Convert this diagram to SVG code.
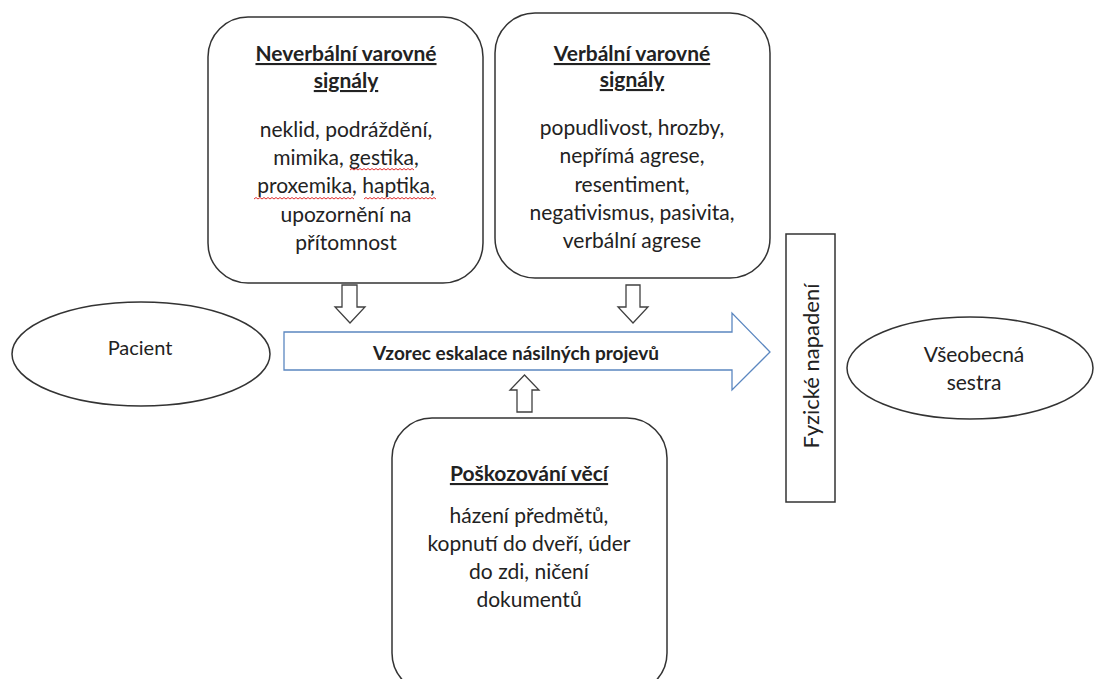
<svg xmlns="http://www.w3.org/2000/svg" width="1095" height="679" viewBox="0 0 1095 679">
<style>
.box{fill:#fff;stroke:#333;stroke-width:1.5}
.t{font-family:Lato,"Open Sans","Liberation Sans",sans-serif;font-size:21px;fill:#222;text-anchor:middle}
.h{font-weight:bold;text-decoration:underline}
.sm{fill:#fff;stroke:#404040;stroke-width:1.3}
.sq{fill:none;stroke:#e03030;stroke-width:1}
</style>
<rect width="1095" height="679" fill="#fff"/>
<g id="neverbalni">
<rect class="box" x="208" y="17" width="275" height="266" rx="40"/>
<text class="t h" x="346" y="61">Neverbální varovné</text>
<text class="t h" x="346" y="88">signály</text>
<text class="t" x="346" y="137">neklid, podráždění,</text>
<text class="t" x="346" y="165">mimika, gestika,</text>
<text class="t" x="346" y="193">proxemika, haptika,</text>
<text class="t" x="346" y="222">upozornění na</text>
<text class="t" x="346" y="250">přítomnost</text>
<path class="sq" d="M350 170 l2 -1.5 l2 1.5 l2 -1.5 l2 1.5 l2 -1.5 l2 1.5 l2 -1.5 l2 1.5 l2 -1.5 l2 1.5 l2 -1.5 l2 1.5 l2 -1.5 l2 1.5 l2 -1.5 l2 1.5 l2 -1.5 l2 1.5 l2 -1.5 l2 1.5 l2 -1.5 l2 1.5 l2 -1.5 l2 1.5 l2 -1.5 l2 1.5 l2 -1.5 l2 1.5 l2 -1.5 l2 1.5 l2 -1.5 l2 1.5"/>
<path class="sq" d="M254 199 l2 -1.5 l2 1.5 l2 -1.5 l2 1.5 l2 -1.5 l2 1.5 l2 -1.5 l2 1.5 l2 -1.5 l2 1.5 l2 -1.5 l2 1.5 l2 -1.5 l2 1.5 l2 -1.5 l2 1.5 l2 -1.5 l2 1.5 l2 -1.5 l2 1.5 l2 -1.5 l2 1.5 l2 -1.5 l2 1.5 l2 -1.5 l2 1.5 l2 -1.5 l2 1.5 l2 -1.5 l2 1.5 l2 -1.5 l2 1.5 l2 -1.5 l2 1.5 l2 -1.5 l2 1.5 l2 -1.5 l2 1.5 l2 -1.5 l2 1.5 l2 -1.5 l2 1.5 l2 -1.5 l2 1.5 l2 -1.5 l2 1.5 l2 -1.5 l2 1.5 l2 -1.5 l2 1.5"/>
<path class="sq" d="M364 199 l2 -1.5 l2 1.5 l2 -1.5 l2 1.5 l2 -1.5 l2 1.5 l2 -1.5 l2 1.5 l2 -1.5 l2 1.5 l2 -1.5 l2 1.5 l2 -1.5 l2 1.5 l2 -1.5 l2 1.5 l2 -1.5 l2 1.5 l2 -1.5 l2 1.5 l2 -1.5 l2 1.5 l2 -1.5 l2 1.5 l2 -1.5 l2 1.5 l2 -1.5 l2 1.5 l2 -1.5 l2 1.5 l2 -1.5 l2 1.5 l2 -1.5 l2 1.5 l2 -1.5 l2 1.5"/>
</g>
<g id="verbalni">
<rect class="box" x="495" y="13" width="275" height="265" rx="40"/>
<text class="t h" x="632" y="61">Verbální varovné</text>
<text class="t h" x="632" y="87">signály</text>
<text class="t" x="632" y="135">popudlivost, hrozby,</text>
<text class="t" x="632" y="163">nepřímá agrese,</text>
<text class="t" x="632" y="192">resentiment,</text>
<text class="t" x="632" y="220">negativismus, pasivita,</text>
<text class="t" x="632" y="248">verbální agrese</text>
</g>
<g id="poskozovani">
<rect class="box" x="392" y="418" width="275" height="275" rx="40"/>
<text class="t h" x="529" y="481">Poškozování věcí</text>
<text class="t" x="529" y="523">házení předmětů,</text>
<text class="t" x="529" y="551">kopnutí do dveří, úder</text>
<text class="t" x="529" y="579">do zdi, ničení</text>
<text class="t" x="529" y="607">dokumentů</text>
</g>
<g id="pacient">
<ellipse class="box" cx="141" cy="354" rx="129" ry="52"/>
<text class="t" x="140" y="355" style="font-size:20px">Pacient</text>
</g>
<g id="sestra">
<ellipse class="box" cx="970" cy="368" rx="123" ry="51"/>
<text class="t" x="974" y="362">Všeobecná</text>
<text class="t" x="974" y="390">sestra</text>
</g>
<g id="napadeni">
<rect class="box" x="786" y="234" width="49" height="268"/>
<text class="t" x="0" y="0" style="font-size:22px" transform="translate(819,366) rotate(-90)">Fyzické napadení</text>
</g>
<g id="vzorec">
<path d="M284 332 H732 V313 L770 352 L732 390 V370 H284 Z" fill="#fff" stroke="#5b87c0" stroke-width="1.3"/>
<text class="t" x="516" y="360" style="font-size:19px;font-weight:bold">Vzorec eskalace násilných projevů</text>
</g>
<g id="connectors">
<path class="sm" d="M342 285 H357 V307 H365 L350 323 L335 307 H342 Z"/>
<path class="sm" d="M626 285 H640 V307 H648 L633 323 L618 307 H626 Z"/>
<path class="sm" d="M517 412 H532 V390 H539 L524.5 375 L510 390 H517 Z"/>
</g>
</svg>
